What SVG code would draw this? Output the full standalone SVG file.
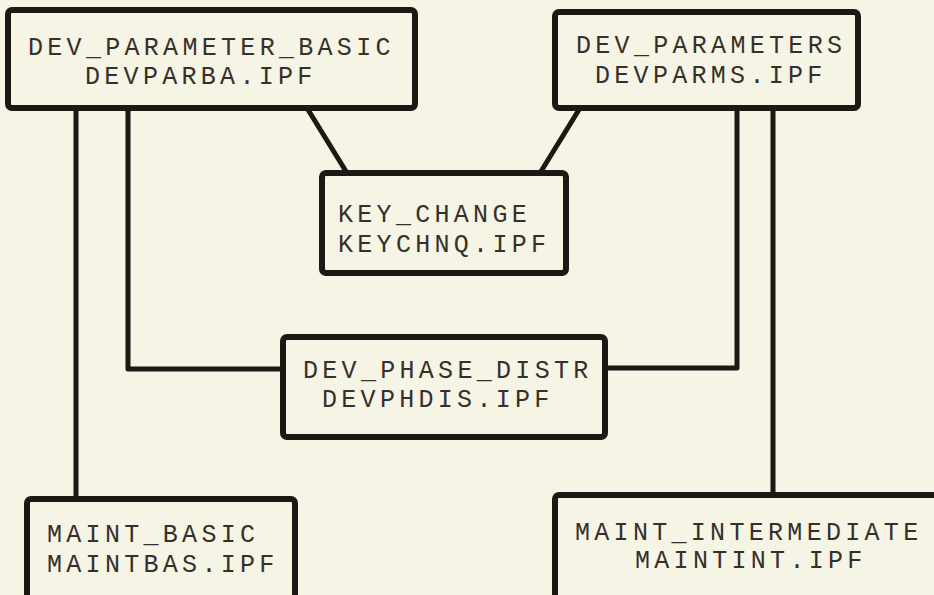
<svg xmlns="http://www.w3.org/2000/svg" width="934" height="595" viewBox="0 0 934 595">
  <style>
    .box { fill: #f6f4e4; stroke: #1f1714; stroke-width: 6; stroke-linejoin: round; }
    .wire { fill: none; stroke: #1f1714; stroke-width: 5; stroke-linejoin: round; stroke-linecap: round; }
    .lbl { font-family: "Liberation Mono", "DejaVu Sans Mono", monospace; font-size: 25px; letter-spacing: 4.3px; fill: #35302c; }
  </style>
  <rect x="0" y="0" width="934" height="595" fill="#f6f4e4"/>

  <!-- connectors -->
  <g id="connectors">
    <path class="wire" d="M76,108 V499"/>
    <path class="wire" d="M128,108 V369 H283"/>
    <path class="wire" d="M307,108 L347,173"/>
    <path class="wire" d="M580,108 L540,173"/>
    <path class="wire" d="M605,368 H737 V108"/>
    <path class="wire" d="M773,108 V495"/>
  </g>

  <g id="dev_parameter_basic">
    <rect class="box" x="8" y="10" width="407" height="98" rx="4"/>
    <text class="lbl" x="28" y="55">DEV_PARAMETER_BASIC</text>
    <text class="lbl" x="85" y="84">DEVPARBA.IPF</text>
  </g>

  <g id="dev_parameters">
    <rect class="box" x="555" y="12" width="303" height="96" rx="4"/>
    <text class="lbl" x="576" y="53">DEV_PARAMETERS</text>
    <text class="lbl" x="595" y="83">DEVPARMS.IPF</text>
  </g>

  <g id="key_change">
    <rect class="box" x="322" y="173" width="244" height="100" rx="4"/>
    <text class="lbl" x="338" y="222">KEY_CHANGE</text>
    <text class="lbl" x="338" y="252">KEYCHNQ.IPF</text>
  </g>

  <g id="dev_phase_distr">
    <rect class="box" x="283" y="337" width="322" height="100" rx="4"/>
    <text class="lbl" x="303" y="378">DEV_PHASE_DISTR</text>
    <text class="lbl" x="322" y="407">DEVPHDIS.IPF</text>
  </g>

  <g id="maint_basic">
    <rect class="box" x="27" y="499" width="268" height="110" rx="4"/>
    <text class="lbl" x="47" y="542">MAINT_BASIC</text>
    <text class="lbl" x="47" y="572">MAINTBAS.IPF</text>
  </g>

  <g id="maint_intermediate">
    <rect class="box" x="555" y="495" width="390" height="114" rx="4"/>
    <text class="lbl" x="575" y="540">MAINT_INTERMEDIATE</text>
    <text class="lbl" x="635" y="568">MAINTINT.IPF</text>
  </g>
</svg>
